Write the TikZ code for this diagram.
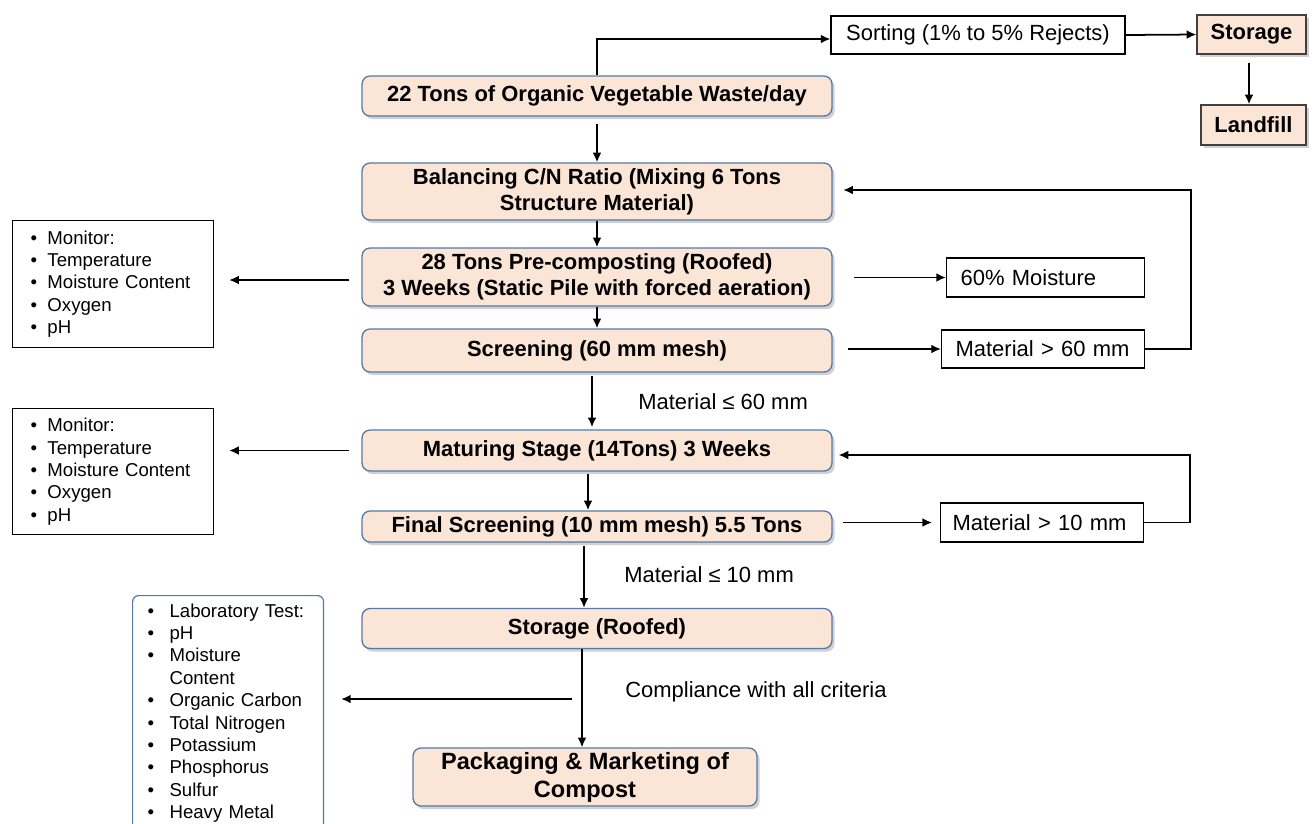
\documentclass[tikz,border=0pt]{standalone}
\usepackage{fontspec}
\setmainfont{Liberation Sans}
\usetikzlibrary{arrows.meta, shadows, positioning, calc}
\definecolor{peach}{RGB}{251,229,214}
\definecolor{steel}{RGB}{84,120,168}
\newlength{\bulw}
\newcommand{\li}[1]{\makebox[\bulw][l]{\textbullet}#1}
\tikzset{
  stage/.style={draw=steel, line width=0.75pt, fill=peach, rounded corners=0.16cm,
    minimum width=9.4cm, inner ysep=2pt, align=center,
    font=\fontsize{12.5}{14.7}\selectfont\bfseries,
    drop shadow={shadow xshift=1.5pt, shadow yshift=-1.8pt, fill=black!45, opacity=0.4}},
  depot/.style={draw=black!75, line width=0.75pt, fill=peach, inner ysep=2pt,
    font=\fontsize{12.5}{14.7}\selectfont\bfseries,
    drop shadow={shadow xshift=1.5pt, shadow yshift=-1.8pt, fill=black!45, opacity=0.4}},
  note/.style={draw, line width=0.7pt, fill=white, inner ysep=2pt,
    font=\fontsize{12.5}{15}\selectfont},
  checklist/.style={draw, line width=0.7pt, fill=white, align=left, anchor=north west,
    font=\fontsize{10.6}{12.75}\selectfont},
  remark/.style={anchor=west, inner sep=0pt, font=\fontsize{12.5}{15}\selectfont},
  flow/.style={-{Latex[length=5.5pt,width=5pt]}, line width=1pt},
}
\begin{document}
\begin{tikzpicture}[x=0.02cm, y=-0.02cm]
\clip (0,0) rectangle (1313,823);

% main process line
\node[stage, minimum height=0.8cm] (waste) at (597,96) {22 Tons of Organic Vegetable Waste/day};
\node[stage, minimum height=1.14cm] (balance) at (597,191.5) {Balancing C/N Ratio (Mixing 6 Tons\\Structure Material)};
\node[stage, minimum height=1.16cm] (precomp) at (597,277) {28 Tons Pre-composting (Roofed)\\3 Weeks (Static Pile with forced aeration)};
\node[stage, minimum height=0.86cm] (screen) at (597,350.5) {Screening (60 mm mesh)};
\node[stage, minimum height=0.82cm] (mature) at (597,450.5) {Maturing Stage (14Tons) 3 Weeks};
\node[stage, minimum height=0.62cm] (final) at (597,526.5) {Final Screening (10 mm mesh) 5.5 Tons};
\node[stage, minimum height=0.8cm] (roofed) at (597,628.5) {Storage (Roofed)};
\node[stage, minimum width=6.88cm, minimum height=1.16cm, font=\fontsize{13.4}{15.9}\selectfont\bfseries] (pack) at (585,777) {Packaging \& Marketing of\\Compost};

% rejects
\node[note, minimum width=5.88cm, minimum height=0.76cm] (sort) at (978,35) {Sorting (1\% to 5\% Rejects)};
\node[depot, minimum width=2.18cm, minimum height=0.78cm] (store) at (1251.5,34.5) {Storage};
\node[depot, minimum width=2.1cm, minimum height=0.8cm] (landfill) at (1253.5,125) {Landfill};

% side outputs
\node[note, anchor=west, align=left, text width=3.4cm, inner xsep=0.28cm, minimum height=0.78cm] (moist) at (946,277.5) {60\% Moisture};
\node[note, anchor=west, align=left, text width=3.5cm, inner xsep=0.28cm, minimum height=0.76cm] (over60) at (941,349) {Material > 60 mm};
\node[note, anchor=west, align=left, text width=3.58cm, inner xsep=0.24cm, minimum height=0.78cm] (over10) at (940,522.5) {Material > 10 mm};

% monitoring lists
\node[checklist, text width=3.3cm, inner xsep=0.36cm, minimum height=2.54cm] (mon1) at (12,220)
  {\setlength{\bulw}{9.6pt}\li{Monitor:}\\\li{Temperature}\\\li{Moisture Content}\\\li{Oxygen}\\\li{pH}};
\node[checklist, text width=3.3cm, inner xsep=0.36cm, minimum height=2.52cm] (mon2) at (12,408)
  {\setlength{\bulw}{9.6pt}\li{Monitor:}\\\li{Temperature}\\\li{Moisture Content}\\\li{Oxygen}\\\li{pH}};
\node[checklist, draw=steel, rounded corners=0.12cm, text width=3.22cm, inner xsep=0.3cm, inner ysep=0.16cm] (lab) at (132,595)
  {\setlength{\bulw}{12.5pt}\li{Laboratory Test:}\\\li{pH}\\\li{Moisture}\\\hspace*{\bulw}Content\\\li{Organic Carbon}\\\li{Total Nitrogen}\\\li{Potassium}\\\li{Phosphorus}\\\li{Sulfur}\\\li{Heavy Metal}};

% remarks
\node[remark] (le60) at (638,402) {Material ≤ 60 mm};
\node[remark] (le10) at (624,575) {Material ≤ 10 mm};
\node[remark] (comply) at (625,692) {Compliance with all criteria};

% connectors
\draw[flow] (waste.north) |- ([yshift=-0.08cm]sort.west);
\draw[flow] (sort.east) -- (store.west);
\draw[flow, shorten <=4.5pt] ([xshift=-0.05cm]store.south) -- ([xshift=-0.05cm]store.south |- landfill.north);
\draw[flow, shorten <=4pt] (waste) -- (balance);
\draw[flow] (balance) -- (precomp);
\draw[flow] (precomp) -- (screen);
\draw[flow, shorten <=1.7pt, shorten >=1.2pt] ([xshift=-0.1cm]screen.south) -- ([xshift=-0.1cm]mature.north);
\draw[flow, shorten <=1.2pt] ([xshift=-0.18cm]mature.south) -- ([xshift=-0.18cm]final.north);
\draw[flow, shorten <=1.7pt] ([xshift=-0.26cm]final.south) -- ([xshift=-0.26cm]roofed.north);
\draw[flow] ([xshift=-0.3cm]roofed.south) -- ([xshift=-0.3cm]roofed.south |- pack.north);

\draw[flow, shorten <=6.8pt, shorten >=8.5pt] ([yshift=-0.06cm]precomp.west) -- ([yshift=-0.06cm]precomp.west -| mon1.east);
\draw[flow, shorten <=6.8pt, shorten >=8.5pt] (mature.west) -- (mature.west -| mon2.east);

\draw[flow, shorten <=12pt] (precomp.east |- moist.west) -- (moist.west);
\draw[flow, shorten <=9pt] (screen.east |- over60.west) -- (over60.west);
\draw[flow, shorten <=6pt, shorten >=4.5pt] (final.east |- over10.west) -- (over10.west);

\coordinate (up60) at (1191,190);
\draw[flow, shorten >=6pt] (over60.east) -| (up60) -- (up60 -| balance.east);
\coordinate (up10) at (1190,455);
\draw[flow, shorten >=3.4pt] (over10.east) -| (up10) -- (up10 -| mature.east);

\coordinate (split) at (572,699);
\draw[flow, shorten >=9.6pt] (split) -- (split -| lab.east);
\end{tikzpicture}
\end{document}
